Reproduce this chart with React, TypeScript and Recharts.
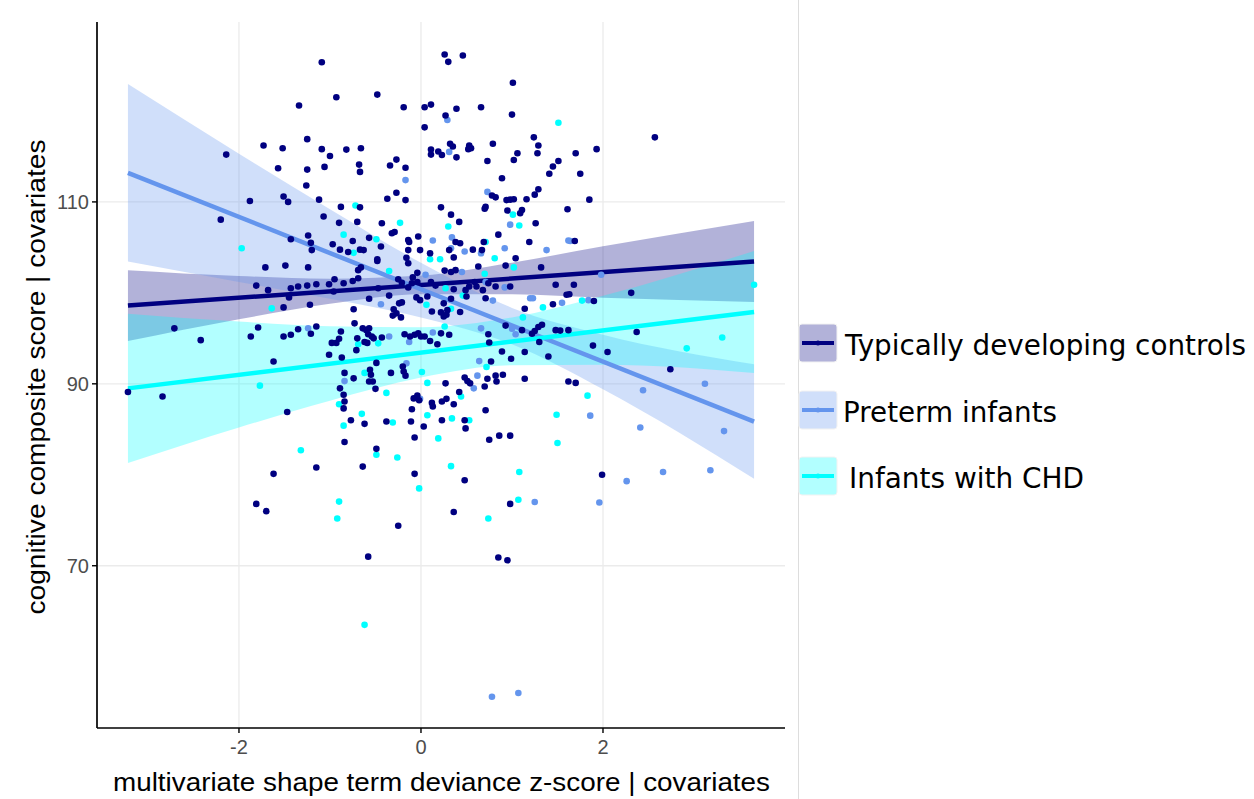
import React from 'react';
import { ComposedChart, Area, Line, Scatter, XAxis, YAxis, CartesianGrid } from 'recharts';

const xTicks = [-2, 0, 2];
const yTicks = [70, 90, 110];

const groupNames = ['Typically developing controls', 'Preterm infants', 'Infants with CHD'];
const groupColors = ['#000080', '#6495ED', '#00FFFF'];

// fitted lines: value at the left and right end of the x range
const fitX = [-3.22, 3.66];
const controlsFit = [98.6, 103.45];
const pretermFit = [113.2, 85.85];
const chdFit = [89.5, 97.9];

// confidence bands, read at these x positions
const bandX = [-3.22, -2, -1, 0, 1, 2, 3.66];
const controlsLow = [94.7, 97.1, 98.8, 99.85, 99.86, 99.46, 99.0];
const controlsHigh = [102.5, 101.86, 101.56, 101.9, 103.32, 105.12, 107.9];
const pretermLow = [103.45, 101.2, 99.35, 97.3, 94.35, 89.4, 79.55];
const pretermHigh = [122.95, 115.3, 109.2, 103.3, 98.35, 95.4, 92.15];
const chdLow = [81.3, 85.2, 88.15, 90.69, 92.04, 92.1, 91.2];
const chdHigh = [97.7, 96.84, 96.33, 96.23, 97.3, 99.68, 104.6];

const controlsPoints = [
  [-1.09, 125.35], [-0.93, 121.5], [-1.34, 120.6], [-1.25, 116.9], [-1.73, 116.2], [-1.52, 115.9], [-1.09, 115.8], [-1.0, 115.05],
  [-2.14, 115.2], [-1.57, 113.7], [-1.25, 113.55], [-1.06, 113.85], [-1.26, 111.8], [-1.51, 110.6], [-1.46, 110.0], [-1.12, 110.25],
  [-1.88, 110.1], [-2.2, 108.05], [-1.07, 108.4], [-1.43, 105.9], [-1.24, 106.3], [-1.21, 105.5], [-1.2, 104.7], [-0.97, 105.35],
  [0.26, 126.2], [0.3, 125.4], [0.46, 126.1], [1.01, 123.1], [-0.48, 121.8], [-0.19, 120.4], [0.04, 120.4], [0.11, 120.7],
  [0.27, 119.5], [0.39, 120.25], [0.66, 120.4], [1.0, 119.6], [0.04, 118.2], [1.24, 117.1], [1.29, 116.2], [1.28, 115.35],
  [1.06, 115.35], [1.02, 114.6], [0.79, 116.4], [0.53, 116.2], [0.55, 115.9], [0.52, 115.8], [0.32, 116.4], [0.35, 116.1],
  [0.11, 115.75], [0.11, 115.2], [0.19, 115.55], [0.23, 115.15], [0.39, 114.9], [0.73, 114.5], [1.45, 113.9], [1.51, 114.5],
  [1.41, 113.1], [0.89, 112.6], [1.29, 111.4], [1.25, 110.8], [1.16, 110.3], [0.78, 110.7], [0.82, 110.5], [0.94, 110.2],
  [0.98, 110.25], [1.02, 110.3], [0.95, 109.05], [1.09, 108.75], [1.11, 109.1], [1.26, 107.65], [1.61, 109.2], [0.7, 109.25],
  [0.71, 109.45], [0.22, 109.4], [0.33, 108.6], [0.42, 107.8], [0.85, 106.4], [1.19, 105.6], [-0.82, 115.75], [-0.66, 115.9],
  [-0.68, 114.1], [-0.67, 113.3], [-0.34, 114.0], [-0.27, 114.65], [-0.17, 113.75], [-0.27, 111.0], [-0.37, 110.35], [-0.17, 110.2],
  [-0.88, 109.45], [-0.67, 109.4], [-0.9, 107.7], [-0.7, 107.8], [-0.43, 107.65], [-0.32, 106.55], [-0.29, 106.7], [-0.57, 106.05],
  [-0.75, 105.7], [-0.89, 104.75], [-0.8, 104.5], [-0.67, 104.75], [-0.63, 104.7], [-0.44, 105.1], [-0.14, 105.8], [-0.13, 105.6],
  [-0.03, 106.2], [-0.14, 104.7], [-0.01, 104.7], [0.1, 104.35], [0.31, 104.7], [0.38, 105.6], [0.43, 105.45], [0.57, 104.75],
  [0.67, 104.7], [0.69, 105.6], [-0.48, 103.7], [0.36, 103.9], [-0.16, 103.85],
  [2.57, 117.1], [1.93, 115.8], [1.7, 115.35], [1.75, 113.1], [1.85, 110.25], [1.69, 105.7],
  [-1.71, 102.8], [-1.49, 103.0], [-1.24, 102.8], [-1.81, 100.8], [-1.68, 100.3], [-1.43, 100.5], [-1.35, 100.7], [-1.25, 100.8],
  [-1.15, 100.95], [-1.01, 100.95], [-0.96, 100.15], [-1.45, 99.5], [-1.51, 98.4], [-1.22, 98.7], [-2.71, 96.1], [-2.42, 94.8],
  [-1.79, 96.2], [-1.87, 95.2], [-1.51, 95.2], [-1.43, 95.4], [-1.35, 96.0], [-1.15, 96.3], [-1.21, 95.5], [-0.98, 94.5],
  [-1.01, 93.2], [-1.62, 92.45], [-3.22, 89.1], [-2.84, 88.6], [-1.47, 86.9], [-1.62, 80.1], [-1.15, 80.8],
  [-1.81, 76.8], [-1.7, 76.0], [-0.25, 74.4], [-0.58, 71.0], [0.36, 75.9], [0.98, 76.8], [0.85, 70.9], [0.95, 70.6],
  [1.68, 100.9], [1.6, 99.8], [1.63, 99.85], [1.9, 99.1], [2.31, 100.0], [1.53, 95.85], [1.62, 95.9], [2.37, 95.7],
  [1.89, 94.2], [2.05, 93.5], [2.74, 91.6], [1.62, 90.25], [1.7, 90.1], [1.99, 80.0],
  [-0.48, 103.5], [-0.14, 103.25], [-0.66, 102.8], [-0.69, 102.5], [-0.04, 102.2], [0.26, 102.45], [0.33, 102.3], [0.38, 102.5],
  [0.63, 102.9], [0.93, 103.0], [1.04, 103.8], [1.32, 102.8], [-0.95, 101.5], [-0.85, 101.05], [-0.75, 101.3], [-0.69, 101.6],
  [-0.57, 99.35], [-0.47, 100.5], [-0.25, 101.5], [-0.21, 101.1], [-0.09, 101.7], [-0.1, 101.05], [-0.04, 101.2], [-0.14, 100.6],
  [0.11, 101.2], [0.16, 100.8], [0.36, 100.4], [0.49, 100.3], [0.53, 100.7], [0.59, 101.2], [0.61, 100.7], [0.68, 100.3],
  [0.74, 101.05], [0.82, 100.7], [0.98, 100.7], [1.48, 100.9], [-0.35, 99.7], [-0.05, 99.5], [-0.01, 99.2], [0.07, 99.6],
  [0.33, 99.35], [0.5, 99.6], [0.71, 99.4], [-0.24, 98.85], [-0.21, 98.95], [0.25, 98.85], [-0.74, 98.2], [-0.3, 98.2],
  [-0.27, 97.75], [-0.31, 97.5], [-0.22, 97.3], [0.12, 97.95], [0.22, 97.85], [0.25, 97.4], [0.28, 97.6], [0.29, 98.1],
  [0.43, 97.9], [1.14, 98.25], [1.45, 98.75], [-0.73, 96.65], [-0.64, 96.1], [-0.6, 95.9], [-0.57, 96.1], [-0.58, 95.45],
  [-0.54, 95.2], [-0.88, 95.75], [-0.93, 94.5], [-0.9, 94.95], [-0.7, 95.0], [-0.62, 94.6], [-0.59, 94.5], [-0.52, 95.0],
  [-0.43, 95.1], [-0.71, 93.7], [-0.18, 95.45], [-0.12, 95.2], [-0.07, 95.4], [-0.03, 95.55], [0.0, 95.2], [0.04, 95.2],
  [0.1, 94.7], [0.18, 94.35], [0.22, 95.55], [0.31, 95.4], [0.74, 95.45], [0.75, 94.55], [0.93, 96.4], [1.11, 95.9],
  [1.22, 95.5], [1.25, 95.8], [1.29, 96.25], [1.33, 96.5], [1.3, 94.6], [1.48, 95.9], [-0.87, 92.9], [-0.49, 92.3],
  [-0.84, 91.2], [-0.74, 90.6], [-0.56, 91.55], [-0.55, 91.0], [-0.57, 90.25], [-0.53, 90.25], [-0.5, 89.45], [-0.33, 91.2],
  [-0.2, 91.9], [-0.19, 91.35], [-0.17, 90.9], [-0.89, 89.5], [-0.85, 88.8], [-0.84, 88.05], [-0.85, 87.3], [0.27, 90.05],
  [0.48, 90.7], [0.51, 90.3], [0.54, 90.05], [0.7, 89.7], [0.73, 90.55], [0.82, 90.9], [0.83, 90.25], [0.9, 91.0],
  [0.77, 92.45], [0.89, 93.55], [0.99, 92.75], [1.14, 93.5], [1.14, 90.55], [1.4, 93.0], [-0.08, 88.4], [-0.04, 88.7],
  [-0.02, 88.2], [-0.1, 87.2], [0.12, 87.9], [0.23, 88.05], [0.28, 88.35], [0.36, 87.75], [0.42, 89.1], [0.13, 87.5],
  [0.71, 87.1], [0.48, 86.0], [0.49, 85.1], [0.23, 86.0], [0.03, 85.3], [-0.11, 85.85], [-0.38, 85.85], [-0.62, 85.6],
  [-0.77, 86.0], [-0.07, 84.1], [0.75, 83.85], [0.86, 84.3], [0.98, 84.3], [-0.84, 83.6], [-0.49, 82.85], [-0.64, 80.9],
  [-0.07, 80.1], [0.48, 79.4],
];

const pretermPoints = [
  [0.29, 119.0], [0.31, 115.5], [-0.17, 112.4], [0.73, 111.1], [0.98, 107.5], [0.13, 105.75], [0.34, 106.1], [0.48, 104.55],
  [0.33, 104.9], [0.92, 104.9], [1.38, 104.7], [1.62, 105.75], [0.66, 104.35], [1.64, 105.7], [-1.24, 96.1], [1.25, 77.0],
  [0.78, 55.6], [1.07, 56.0], [1.96, 76.95], [1.98, 102.0], [1.55, 98.9], [1.84, 99.2], [2.44, 89.3], [3.12, 90.0],
  [1.86, 86.5], [2.41, 85.2], [3.33, 84.8], [2.26, 79.3], [2.66, 80.3], [3.18, 80.5], [0.05, 102.0], [0.45, 102.3],
  [0.71, 101.2], [0.92, 100.6], [0.79, 99.15], [-0.44, 98.75], [1.2, 99.4], [1.23, 99.4], [-0.35, 95.2], [-0.13, 94.6],
  [0.13, 95.65], [0.66, 96.1], [1.0, 96.05], [1.04, 95.45], [-0.16, 92.25], [-0.84, 90.3], [0.62, 90.9], [0.58, 89.5],
  [0.64, 92.5], [-0.01, 88.35],
];

const chdPoints = [
  [-1.97, 104.9], [1.51, 118.7], [-0.72, 109.6], [-0.23, 107.7], [0.3, 107.3], [1.01, 108.6], [1.08, 107.4], [-0.85, 106.4],
  [-0.49, 105.9], [-0.74, 104.4], [0.71, 105.6], [0.81, 103.8], [0.1, 103.7], [0.21, 103.7], [-1.64, 98.3], [-1.77, 89.8],
  [-1.32, 82.7], [-0.9, 77.05], [-0.92, 75.2], [-0.62, 63.5], [1.07, 77.25], [0.74, 75.2], [1.77, 99.15], [3.66, 100.9],
  [3.31, 95.1], [2.92, 93.9], [1.83, 88.7], [1.49, 86.6], [1.5, 83.5], [-0.35, 102.4], [0.7, 102.1], [1.02, 102.8],
  [0.27, 100.5], [0.46, 99.7], [0.06, 98.7], [0.33, 98.25], [1.34, 98.4], [-0.47, 94.45], [-0.69, 94.35], [0.26, 96.3],
  [1.12, 97.3], [-0.62, 91.2], [0.01, 91.3], [0.07, 90.1], [-0.9, 87.75], [0.72, 91.85], [-0.38, 89.0], [0.44, 88.6],
  [0.07, 86.55], [0.53, 86.0], [0.34, 86.2], [-0.31, 85.75], [-0.65, 86.7], [-0.85, 85.4], [0.19, 84.0], [-0.49, 82.2],
  [-0.26, 81.9], [0.33, 80.95], [1.08, 80.3], [-0.02, 78.5],
];

const toPoints = (pts: number[][]) => pts.map(([x, y]) => ({ x, y }));
const toBand = (lo: number[], hi: number[]) => bandX.map((x, i) => ({ x, y: [lo[i], hi[i]] }));
const toFit = (ys: number[]) => fitX.map((x, i) => ({ x, y: ys[i] }));

const bands = [toBand(controlsLow, controlsHigh), toBand(pretermLow, pretermHigh), toBand(chdLow, chdHigh)];
const fits = [toFit(controlsFit), toFit(pretermFit), toFit(chdFit)];
const points = [toPoints(controlsPoints), toPoints(pretermPoints), toPoints(chdPoints)];

const tickFont = { fontFamily: '"Liberation Sans", Arial, sans-serif', fontSize: 20, fill: '#4d4d4d' };
const titleFont = '"Liberation Sans", Arial, sans-serif';

const XTick = (props: any) => (
  <text x={props.x} y={props.y + 19} textAnchor="middle" {...tickFont}>{props.payload.value}</text>
);
const YTick = (props: any) => (
  <text x={props.x - 1} y={props.y + 7} textAnchor="end" {...tickFont}>{props.payload.value}</text>
);

const dot = (color: string) => (p: any) => <circle cx={p.cx} cy={p.cy} r={3.3} fill={color} />;

export default function App() {
  return (
    <div style={{ position: 'absolute', left: 0, top: 0, width: 1254, height: 799, background: '#fff' }}>
      <ComposedChart width={800} height={799} margin={{ top: 22, right: 15, bottom: 0, left: 0 }}>
        <CartesianGrid stroke="#ebebeb" strokeWidth={1.3} verticalValues={xTicks} horizontalValues={yTicks} />
        <XAxis
          type="number"
          dataKey="x"
          domain={[-3.56, 4.0]}
          ticks={xTicks}
          allowDataOverflow
          height={71}
          tickSize={5}
          tickMargin={2}
          axisLine={{ stroke: '#000', strokeWidth: 1.7 }}
          tickLine={{ stroke: '#000', strokeWidth: 1.4 }}
          tick={<XTick />}
          label={{
            content: () => (
              <text x={113} y={791} textLength={657} lengthAdjust="spacingAndGlyphs" fontFamily={titleFont} fontSize={25} fill="#000">
                multivariate shape term deviance z-score | covariates
              </text>
            ),
          }}
        />
        <YAxis
          type="number"
          dataKey="y"
          domain={[52.16, 129.78]}
          ticks={yTicks}
          allowDataOverflow
          width={97}
          tickSize={5}
          tickMargin={2}
          axisLine={{ stroke: '#000', strokeWidth: 1.7 }}
          tickLine={{ stroke: '#000', strokeWidth: 1.4 }}
          tick={<YTick />}
          label={{
            content: () => (
              <text
                x={0}
                y={0}
                transform="translate(45,377) rotate(-90)"
                textAnchor="middle"
                textLength={475}
                lengthAdjust="spacingAndGlyphs"
                fontFamily={titleFont}
                fontSize={25}
                fill="#000"
              >
                cognitive composite score | covariates
              </text>
            ),
          }}
        />
        {groupColors.map((c, i) => (
          <Area
            key={'band' + i}
            data={bands[i]}
            dataKey="y"
            type="monotone"
            fill={c}
            fillOpacity={0.3}
            stroke="none"
            isAnimationActive={false}
          />
        ))}
        {groupColors.map((c, i) => (
          <Line
            key={'fit' + i}
            data={fits[i]}
            dataKey="y"
            type="linear"
            stroke={c}
            strokeWidth={4.5}
            dot={false}
            activeDot={false}
            isAnimationActive={false}
          />
        ))}
        {[1, 2, 0].map((i) => (
          <Scatter key={'pts' + i} data={points[i]} fill={groupColors[i]} shape={dot(groupColors[i])} isAnimationActive={false} />
        ))}
      </ComposedChart>
      <svg width={1254} height={799} style={{ position: 'absolute', left: 0, top: 0, pointerEvents: 'none' }}>
        <line x1={798.5} y1={0} x2={798.5} y2={799} stroke="#dddddd" strokeWidth={1} />
        {groupNames.map((name, i) => {
          const top = [324, 391, 457][i];
          const textX = [845, 843, 849][i];
          const textLen = [401, 214, 235][i];
          return (
            <g key={name}>
              <rect x={799} y={top} width={38} height={38} rx={3} fill={groupColors[i]} fillOpacity={0.3} stroke="#f2f2f2" strokeWidth={1} />
              <line x1={802} y1={top + 19} x2={834} y2={top + 19} stroke={groupColors[i]} strokeWidth={4} />
              <circle cx={818} cy={top + 19} r={2.5} fill={groupColors[i]} />
              <text x={textX} y={top + 31} textLength={textLen} lengthAdjust="spacingAndGlyphs" fontFamily='"DejaVu Sans", sans-serif' fontSize={27.5} fill="#000">
                {name}
              </text>
            </g>
          );
        })}
      </svg>
    </div>
  );
}
